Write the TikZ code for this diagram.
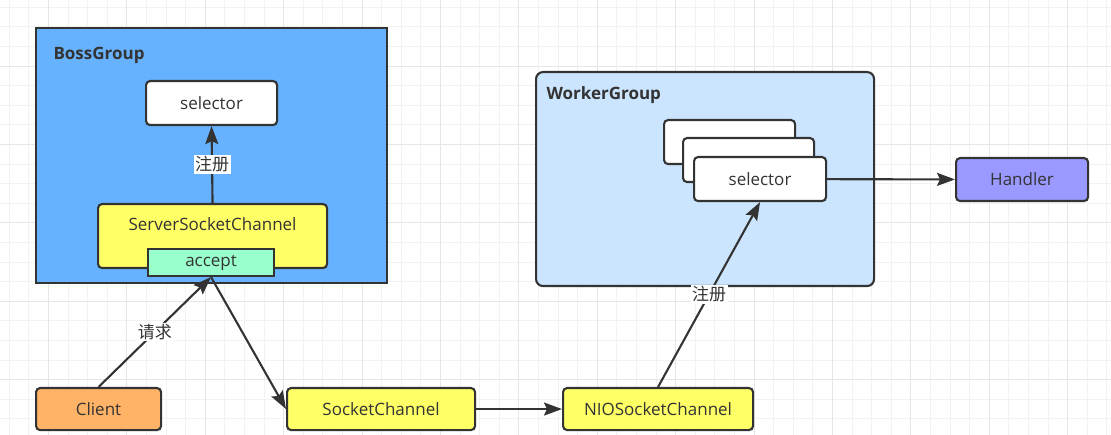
\documentclass[tikz,border=0pt]{standalone}
\usepackage{fontspec}
\setmainfont{Open Sans}
\newfontfamily\cjk{Noto Sans CJK SC}
\usepackage{tikz}
\usetikzlibrary{arrows.meta}

\definecolor{bossblue}{HTML}{66B2FF}
\definecolor{workerblue}{HTML}{CCE5FF}
\definecolor{chanyellow}{HTML}{FFFF66}
\definecolor{acceptgreen}{HTML}{99FFCC}
\definecolor{clientorange}{HTML}{FFB366}
\definecolor{handlerpurple}{HTML}{9999FF}
\definecolor{edgegray}{HTML}{333333}
\definecolor{gridminor}{HTML}{F2F2F2}
\definecolor{gridmajor}{HTML}{E6E6E6}

\begin{document}
\begin{tikzpicture}[%
  x=1pt, y=-1pt,
  font=\fontsize{17}{20}\selectfont,
  every node/.style={text=edgegray},
  box/.style={draw=edgegray, line width=2.1pt, rounded corners=4pt,
    inner sep=0pt, anchor=north west},
  group/.style={draw=edgegray, line width=2.1pt, inner sep=0pt, anchor=north west},
  grouplabel/.style={anchor=west, font=\fontsize{17}{20}\selectfont\bfseries},
  lbl/.style={fill=white, inner sep=1.5pt, font=\cjk\fontsize{17}{19}\selectfont},
  link/.style={draw=edgegray, line width=2.1pt,
    -{Stealth[length=18pt,width=13pt,inset=3pt]}}
  ]
  \useasboundingbox[fill=white] (0,0) rectangle (1111,435);
  % background grid
  \foreach \i in {0,...,56}
    \draw[gridminor, line width=1pt] ({9.3+\i*19.6},0) -- ({9.3+\i*19.6},435);
  \foreach \j in {0,...,21}
    \draw[gridminor, line width=1pt] (0,{7.3+\j*19.6}) -- (1111,{7.3+\j*19.6});
  \foreach \i in {0,...,13}
    \draw[gridmajor, line width=1pt] ({48.5+\i*78.4},0) -- ({48.5+\i*78.4},435);
  \foreach \j in {0,...,5}
    \draw[gridmajor, line width=1pt] (0,{66.1+\j*78.4}) -- (1111,{66.1+\j*78.4});

  % boss group
  \node[group, fill=bossblue, minimum width=351, minimum height=255] (boss) at (35,27) {};
  \node[grouplabel] (bosslabel) at (50,55) {BossGroup};
  \node[box, fill=white, minimum width=131, minimum height=44] (bossselector) at (145,80) {selector};
  \node[box, fill=chanyellow, minimum width=229, minimum height=64,
    label={[anchor=center, yshift=-21pt]north:ServerSocketChannel}] (ssc) at (97,203) {};
  \node[group, fill=acceptgreen, minimum width=126, minimum height=27] (accept) at (147,248) {accept};
  \draw[link] (ssc.north) -- node[lbl] {注册} (bossselector.south);

  % worker group
  \node[group, rounded corners=7pt, fill=workerblue, minimum width=338, minimum height=214] (worker) at (535,71) {};
  \node[grouplabel] (workerlabel) at (543,95) {WorkerGroup};
  \node[box, fill=white, minimum width=131, minimum height=44] (selectorback) at (663,119) {};
  \node[box, fill=white, minimum width=131, minimum height=44] (selectormid) at (682,137) {};
  \node[box, fill=white, minimum width=132, minimum height=44] (workerselector) at (693,156) {selector};

  \node[box, fill=handlerpurple, minimum width=132, minimum height=43] (handler) at (955,157) {Handler};

  % channels
  \node[box, fill=clientorange, minimum width=125, minimum height=42] (client) at (35,387) {Client};
  \node[box, fill=chanyellow, minimum width=188, minimum height=42] (socket) at (286,387) {SocketChannel};
  \node[box, fill=chanyellow, minimum width=190, minimum height=42] (nio) at (562,387) {NIOSocketChannel};

  \draw[link] (client.north) -- node[lbl] {请求} (accept.south);
  \draw[link] (accept.south) -- (socket.west);
  \draw[link] (socket) -- (nio);
  \draw[link] (nio.north) -- node[lbl] {注册} (workerselector.south);
  \draw[link] (workerselector) -- (handler);
\end{tikzpicture}
\end{document}
